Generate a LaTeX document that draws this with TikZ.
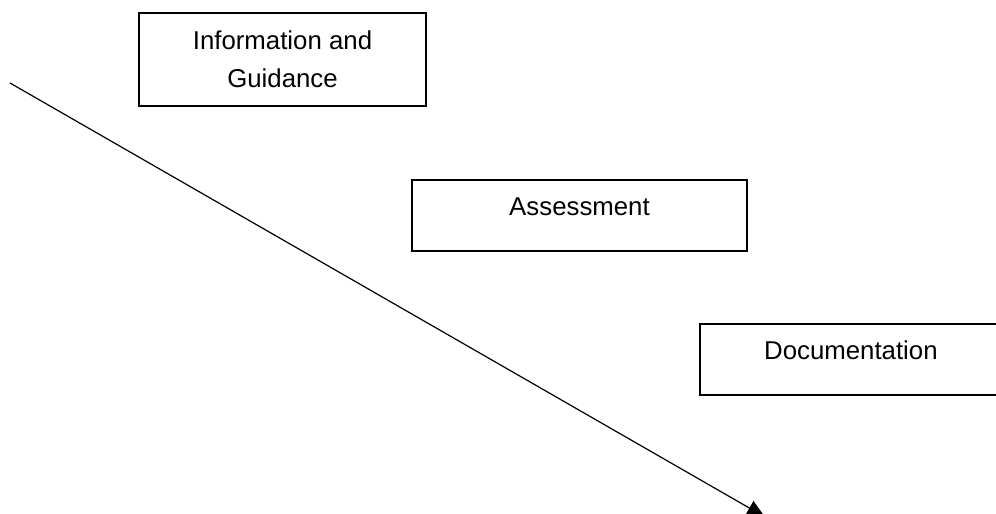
\documentclass[tikz,border=0pt]{standalone}
\usepackage{fontspec}
\setmainfont{Liberation Sans}
\usetikzlibrary{arrows.meta, positioning}

\tikzset{
    stage/.style={draw, line width=1.8pt, rectangle, inner xsep=0pt, inner ysep=0pt,
        align=center, font=\fontsize{25.8}{38}\selectfont,
        text height=35pt, text depth=36pt},
    flow/.style={line width=1.2pt, -{Triangle[width=16pt, length=18pt]}}
}

\begin{document}
\begin{tikzpicture}[x=1pt, y=-1pt]
    \useasboundingbox (0, 0) rectangle (996, 514);
    \clip (0, 0) rectangle (996, 514);
    % stages
    \node[stage, minimum width=287pt, text height=74pt, text depth=19pt] (info) at (282.5, 59.5) {Information and\\Guidance};
    \node[stage, minimum width=335pt] (assess) at (579.5, 215.5) {Assessment};
    \node[stage, minimum width=342pt, anchor=west] (docu) at (699, 359.5) {\makebox[302pt]{Documentation}\hspace{40pt}};
    % long arrow
    \coordinate (start) at (10, 83);
    \coordinate (tip) at (765, 517);
    \draw[flow] (start) -- (tip);
\end{tikzpicture}
\end{document}
